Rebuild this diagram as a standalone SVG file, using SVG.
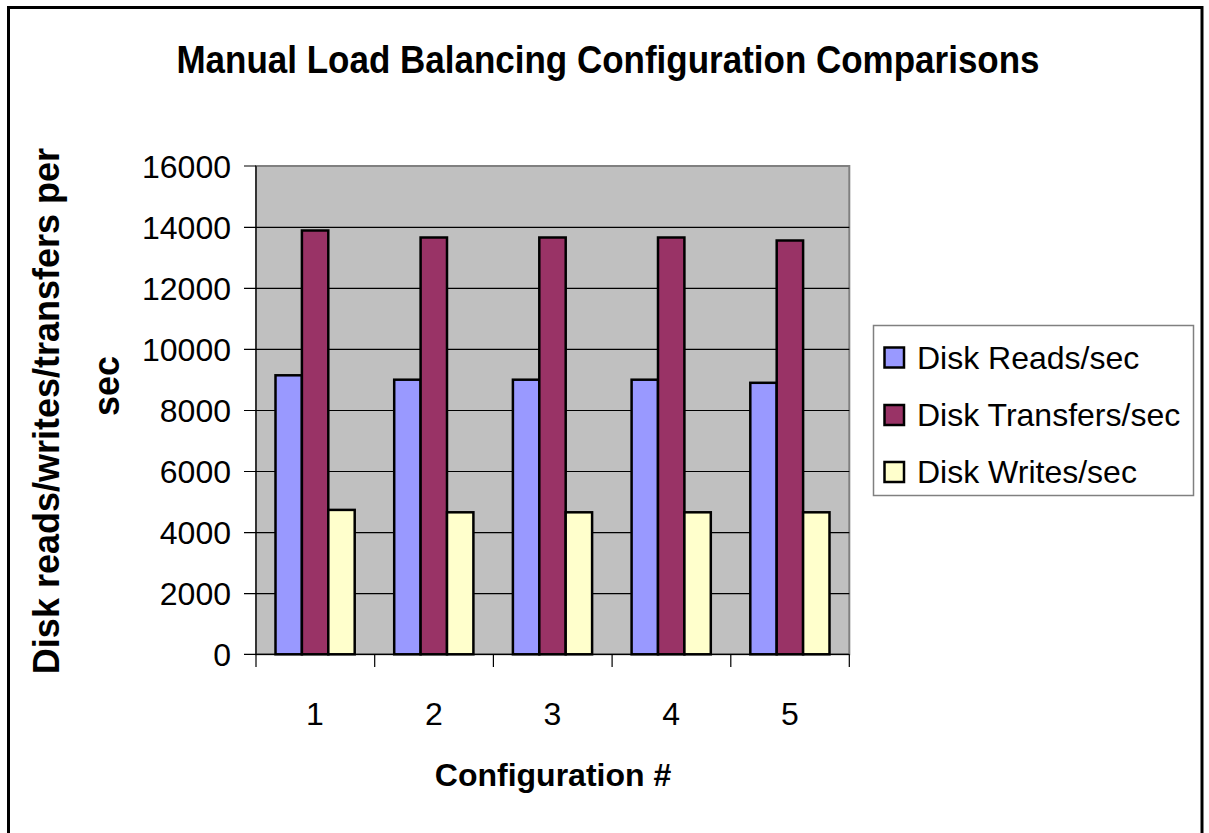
<svg xmlns="http://www.w3.org/2000/svg" width="1209" height="833" viewBox="0 0 1209 833">
<style>
text{font-family:"Liberation Sans",Arial,sans-serif;fill:#000}
.b{font-weight:bold}
.tick{font-size:32px;text-anchor:end}
.cat{font-size:32px;text-anchor:middle}
.leg{font-size:32px}
.grid{stroke:#000;stroke-width:1.2}
.ax{stroke:#000;stroke-width:1.2;fill:none}
.bar{stroke:#000;stroke-width:2.5}
.r{fill:#9999FF}
.t{fill:#993366}
.w{fill:#FFFFCC}
</style>
<rect x="0" y="0" width="1209" height="833" fill="#fff"/>
<rect id="frame" x="8.5" y="7.5" width="1193.5" height="840" fill="#fff" stroke="#000" stroke-width="3"/>
<g id="title"><text class="b" transform="translate(608,73) scale(1,1.1)" font-size="35" text-anchor="middle">Manual Load Balancing Configuration Comparisons</text></g>
<g id="plot">
<rect x="256" y="166" width="593.3" height="488.3" fill="#C0C0C0" stroke="#808080" stroke-width="2"/>
<g class="grid">
<line x1="256" y1="227.3" x2="849.3" y2="227.3"/>
<line x1="256" y1="288.4" x2="849.3" y2="288.4"/>
<line x1="256" y1="349.4" x2="849.3" y2="349.4"/>
<line x1="256" y1="410.5" x2="849.3" y2="410.5"/>
<line x1="256" y1="471.5" x2="849.3" y2="471.5"/>
<line x1="256" y1="532.6" x2="849.3" y2="532.6"/>
<line x1="256" y1="593.7" x2="849.3" y2="593.7"/>
</g>
</g>
<g id="series-reads">
<rect class="bar r" x="275.5" y="375.3" width="26.4" height="279"/>
<rect class="bar r" x="394.2" y="379.7" width="26.4" height="274.6"/>
<rect class="bar r" x="512.9" y="379.7" width="26.4" height="274.6"/>
<rect class="bar r" x="631.6" y="379.7" width="26.4" height="274.6"/>
<rect class="bar r" x="750.3" y="382.8" width="26.4" height="271.5"/>
</g>
<g id="series-transfers">
<rect class="bar t" x="301.9" y="230.5" width="26.4" height="423.8"/>
<rect class="bar t" x="420.6" y="237.5" width="26.4" height="416.8"/>
<rect class="bar t" x="539.3" y="237.5" width="26.4" height="416.8"/>
<rect class="bar t" x="658.0" y="237.5" width="26.4" height="416.8"/>
<rect class="bar t" x="776.7" y="240.5" width="26.4" height="413.8"/>
</g>
<g id="series-writes">
<rect class="bar w" x="328.3" y="509.9" width="26.4" height="144.4"/>
<rect class="bar w" x="447.0" y="512.3" width="26.4" height="142"/>
<rect class="bar w" x="565.7" y="512.3" width="26.4" height="142"/>
<rect class="bar w" x="684.4" y="512.3" width="26.4" height="142"/>
<rect class="bar w" x="803.1" y="512.3" width="26.4" height="142"/>
</g>
<g id="axes" class="ax">
<line x1="256" y1="166" x2="256" y2="654.3"/>
<line x1="244" y1="654.3" x2="849.3" y2="654.3"/>
<path d="M244 166H256M244 227.3H256M244 288.4H256M244 349.4H256M244 410.5H256M244 471.5H256M244 532.6H256M244 593.7H256"/>
<path d="M256 654.3V667M374.7 654.3V667M493.4 654.3V667M612.1 654.3V667M730.8 654.3V667M849.3 654.3V667"/>
</g>
<g id="y-labels">
<text class="tick" x="231" y="178">16000</text>
<text class="tick" x="231" y="239">14000</text>
<text class="tick" x="231" y="300">12000</text>
<text class="tick" x="231" y="361">10000</text>
<text class="tick" x="231" y="422">8000</text>
<text class="tick" x="231" y="483">6000</text>
<text class="tick" x="231" y="544">4000</text>
<text class="tick" x="231" y="605">2000</text>
<text class="tick" x="231" y="666">0</text>
</g>
<g id="x-labels">
<text class="cat" x="315" y="725">1</text>
<text class="cat" x="433.8" y="725">2</text>
<text class="cat" x="552.5" y="725">3</text>
<text class="cat" x="671.2" y="725">4</text>
<text class="cat" x="789.9" y="725">5</text>
</g>
<g id="y-title">
<text class="b" font-size="36" text-anchor="middle" transform="translate(59,411) rotate(-90)">Disk reads/writes/transfers per</text>
<text class="b" font-size="36" text-anchor="middle" transform="translate(119,386) rotate(-90)">sec</text>
</g>
<g id="x-title"><text class="b" font-size="32" text-anchor="middle" x="553" y="786">Configuration #</text></g>
<g id="legend">
<rect x="873.5" y="325.5" width="320" height="170" fill="#fff" stroke="#808080" stroke-width="1.5"/>
<rect class="bar r" x="884.5" y="347.5" width="19.5" height="20" stroke-width="2"/>
<rect class="bar t" x="884.5" y="405" width="19.5" height="20" stroke-width="2"/>
<rect class="bar w" x="884.5" y="462" width="19.5" height="20" stroke-width="2"/>
<text class="leg" x="917" y="369">Disk Reads/sec</text>
<text class="leg" x="917" y="426">Disk Transfers/sec</text>
<text class="leg" x="917" y="483">Disk Writes/sec</text>
</g>
</svg>
